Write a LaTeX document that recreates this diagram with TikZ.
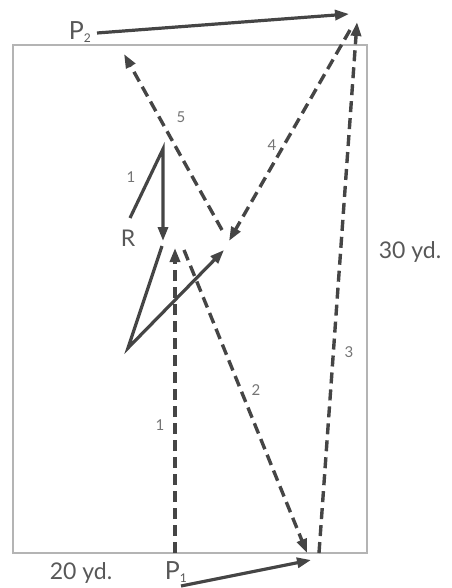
\documentclass[tikz,border=0pt]{standalone}
\usepackage{fontspec}
\setmainfont{Lato}
\usetikzlibrary{arrows.meta}
\definecolor{ink}{HTML}{454545}
\definecolor{field}{HTML}{B4B4B4}
\begin{document}
\begin{tikzpicture}[x=1pt,y=-1pt,
  run/.style={draw=ink,line width=3.2pt,-{Triangle[length=14pt,width=10pt]}},
  pass/.style={draw=ink,line width=3.4pt,dash pattern=on 11pt off 6pt,-{Triangle[length=14pt,width=10pt]}},
  num/.style={text=ink!75,font=\fontsize{15}{15}\selectfont,inner sep=0pt},
  big/.style={text=ink!90,font=\fontsize{25}{25}\selectfont,inner sep=0pt},
  dim/.style={text=ink!90,font=\fontsize{23}{23}\selectfont,inner sep=0pt}]
\useasboundingbox (0,0) rectangle (451,588);
\draw[field,line width=1.6pt] (13,45) rectangle (367,553);
% named points
\coordinate (p2s) at (97,33);
\coordinate (p2e) at (349,14);
\coordinate (p1s) at (181,586);
\coordinate (p1e) at (311,560);
\coordinate (a1s) at (175,553);
\coordinate (a1e) at (175,248);
\coordinate (a2s) at (184,250);
\coordinate (a2e) at (307,553);
\coordinate (a3s) at (319,553);
\coordinate (a3e) at (357,22);
\coordinate (a4s) at (350,30);
\coordinate (a4e) at (229,241);
\coordinate (a5s) at (222,230);
\coordinate (a5e) at (124,54);
\coordinate (r0) at (130,218);
\coordinate (r1) at (163,149);
\coordinate (r2) at (163,241);
\coordinate (s0) at (162,246);
\coordinate (s1) at (128,348);
\coordinate (s2) at (224,250);
% texts
\node[big] (P2) at (80,32) {P\textsubscript{\fontsize{12}{12}\selectfont 2}};
\node[big] (P1) at (176,572) {P\textsubscript{\fontsize{12}{12}\selectfont 1}};
\node[dim] (R) at (128,238) {R};
\node[dim] (w) at (81,573) {20 yd.};
\node[dim] (h) at (410,252) {30 yd.};
\node[num] (n1a) at (160,425) {1};
\node[num] (n2) at (256,390) {2};
\node[num] (n3) at (349,352) {3};
\node[num] (n4) at (272,145) {4};
\node[num] (n5) at (181,117) {5};
\node[num] (n1b) at (131,177) {1};
% solid runs
\draw[run] (p2s) -- (p2e);
\draw[run] (p1s) -- (p1e);
\draw[run] (r0) -- (r1) -- (r2);
\draw[run] (s0) -- (s1) -- (s2);
% dashed passes
\draw[pass] (a1s) -- (a1e);
\draw[pass] (a2s) -- (a2e);
\draw[pass] (a3s) -- (a3e);
\draw[pass] (a4s) -- (a4e);
\draw[pass] (a5s) -- (a5e);
\end{tikzpicture}
\end{document}
